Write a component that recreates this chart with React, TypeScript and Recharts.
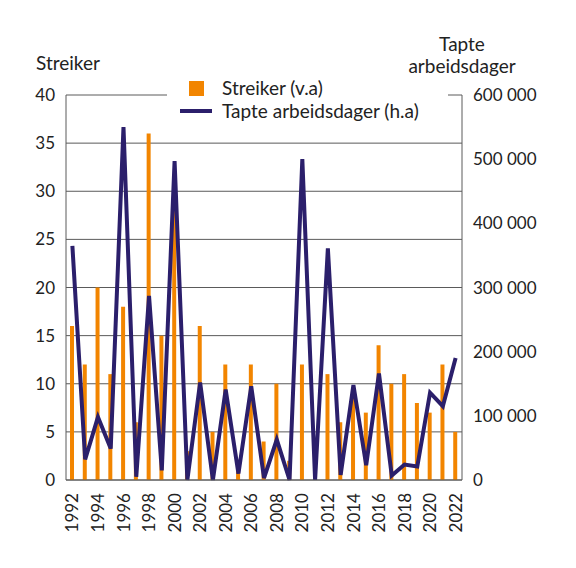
import React from 'react';
import { ComposedChart, Bar, Line, XAxis, YAxis, CartesianGrid, Legend } from 'recharts';

const years = ['1992','1993','1994','1995','1996','1997','1998','1999','2000','2001','2002','2003','2004','2005','2006','2007','2008','2009','2010','2011','2012','2013','2014','2015','2016','2017','2018','2019','2020','2021','2022'];
const streiker = [16,12,20,11,18,6,36,15,28,3,16,5,12,1,12,4,10,2,12,0,11,6,9,7,14,10,11,8,7,12,5];
const tapteArbeidsdager = [365000,32000,98000,49000,550000,5000,287000,15000,497000,0,152000,0,141000,10000,146000,3000,63000,0,500000,0,361000,8000,148000,23000,166000,7000,24000,21000,136000,115000,190000];
const leftTicks = [0,5,10,15,20,25,30,35,40];
const rightTicks = [0,100000,200000,300000,400000,500000,600000];

const ORANGE = '#F28500';
const NAVY = '#2B1F6B';
const GRID = '#5a5a5a';
const TEXT = '#222';
const FONT = 'Lato, "Noto Sans", sans-serif';

const data = years.map((y, i) => ({ year: y, streiker: streiker[i], tapte: tapteArbeidsdager[i] }));

const fmt = (v: number) => String(v).replace(/\B(?=(\d{3})+(?!\d))/g, ' ');

const YearTick = (props: any) => {
  const { x, y, payload } = props;
  return (
    <text x={x} y={y} transform={`rotate(-90 ${x} ${y})`} textAnchor="end" dy="0.36em" fontSize={17} fontFamily={FONT} fill={TEXT}>
      {payload.value}
    </text>
  );
};

const LegendContent = () => (
  <div style={{ position: 'relative', width: '100%', height: '100%', background: '#fff', fontFamily: FONT, fontSize: 19, color: TEXT }}>
    <div style={{ position: 'absolute', left: 22, top: 5, width: 15, height: 15, background: ORANGE }} />
    <span style={{ position: 'absolute', left: 55, top: 2, lineHeight: '20px', whiteSpace: 'nowrap' }}>Streiker (v.a)</span>
    <div style={{ position: 'absolute', left: 13, top: 33, width: 32, height: 4, background: NAVY }} />
    <span style={{ position: 'absolute', left: 55, top: 25, lineHeight: '20px', whiteSpace: 'nowrap' }}>Tapte arbeidsdager (h.a)</span>
  </div>
);

const LeftTitle = () => (
  <text x={36} y={70} fontSize={19} fontFamily={FONT} fill={TEXT}>Streiker</text>
);

const RightTitle = () => (
  <g>
    <text x={462} y={51} textAnchor="middle" fontSize={19} fontFamily={FONT} fill={TEXT}>Tapte</text>
    <text x={462} y={73} textAnchor="middle" fontSize={19} fontFamily={FONT} fill={TEXT}>arbeidsdager</text>
  </g>
);

export default function App() {
  return (
    <div style={{ position: 'absolute', left: 0, top: 0, width: 576, height: 568, background: '#fff' }}>
      <ComposedChart width={576} height={568} data={data} margin={{ top: 95, right: 0, bottom: 0, left: 0 }}>
        <CartesianGrid yAxisId="left" vertical={false} stroke={GRID} strokeWidth={1} />
        <XAxis dataKey="year" interval={1} height={88} tickLine={false} tickMargin={7} tick={<YearTick />} axisLine={{ stroke: GRID }} />
        <YAxis yAxisId="left" orientation="left" width={66} domain={[0, 40]} ticks={leftTicks} tickLine={false} tickMargin={5} axisLine={{ stroke: GRID }} tick={{ fontSize: 17, fontFamily: FONT, fill: TEXT }} label={{ content: () => <LeftTitle /> }} />
        <YAxis yAxisId="right" orientation="right" width={114} domain={[0, 600000]} ticks={rightTicks} tickFormatter={fmt} tickLine={false} tickMargin={5} axisLine={{ stroke: GRID }} tick={{ fontSize: 17, fontFamily: FONT, fill: TEXT, textAnchor: 'start' }} label={{ content: () => <RightTitle /> }} />
        <Bar yAxisId="left" dataKey="streiker" fill={ORANGE} barSize={4} isAnimationActive={false} />
        <Line yAxisId="right" dataKey="tapte" type="linear" stroke={NAVY} strokeWidth={4} dot={false} activeDot={false} isAnimationActive={false} />
        <Legend layout="vertical" align="center" verticalAlign="middle" wrapperStyle={{ position: 'absolute', left: 167, top: 76, width: 281, height: 50 }} content={() => <LegendContent />} />
      </ComposedChart>
    </div>
  );
}
